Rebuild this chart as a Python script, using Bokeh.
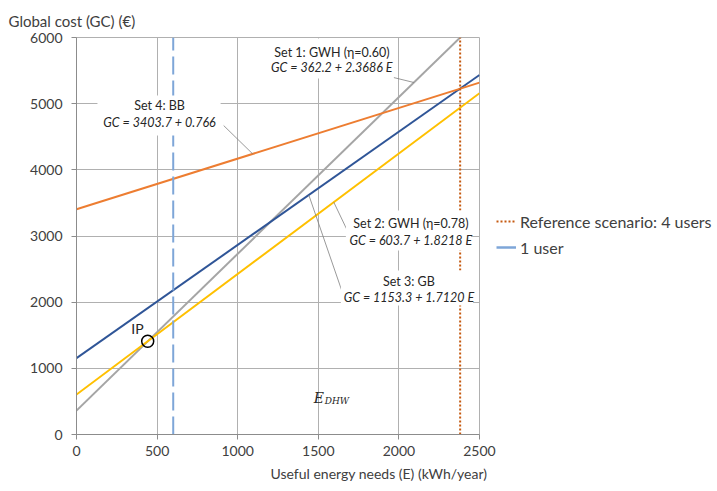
from bokeh.plotting import figure
from bokeh.layouts import row
from bokeh.models import Range1d, FixedTicker, Label, BoxAnnotation, Legend, LegendItem, Title
from bokeh.embed import file_html
from bokeh.resources import INLINE

# ---------------- data ----------------
set_titles = ["Set 1: GWH (η=0.60)", "Set 2: GWH (η=0.78)", "Set 3: GB", "Set 4: BB"]
formula_texts = ["GC = 362.2 + 2.3686 E", "GC = 603.7 + 1.8218 E",
                 "GC = 1153.3 + 1.7120 E", "GC = 3403.7 + 0.766"]
intercepts = [362.2, 603.7, 1153.3, 3403.7]
slopes = [2.3686, 1.8218, 1.7120, 0.766]
line_colors = ["#a5a5a5", "#ffc000", "#2f5597", "#ed7d31"]
energy_range = [0, 2500]
ref_energy_4_users = 2380
energy_1_user = 600
x_ticks = [0, 500, 1000, 1500, 2000, 2500]
y_ticks = [0, 1000, 2000, 3000, 4000, 5000, 6000]
legend_labels = ["Reference scenario: 4 users", "1 user"]
y_title = "Global cost (GC) (€)"
x_title = "Useful energy needs (E) (kWh/year)"

FONT = "Lato"
TXT = "#404040"
GRID = "#b0b0b0"
REF_COLOR = "#c55a11"
USER_COLOR = "#7ea6d8"

p = figure(width=496, height=491, output_backend="svg", toolbar_location=None,
           x_range=Range1d(0, 2500), y_range=Range1d(0, 6000),
           min_border_left=76, min_border_right=17, min_border_top=37, min_border_bottom=57)
p.outline_line_color = GRID
p.background_fill_color = "white"
p.border_fill_color = "white"

for ax in (p.xaxis[0], p.yaxis[0]):
    ax.axis_line_color = "#8c8c8c"
    ax.major_tick_line_color = "#8c8c8c"
    ax.minor_tick_line_color = None
    ax.major_tick_in = 0
    ax.major_tick_out = 5
    ax.major_label_text_font = FONT
    ax.major_label_text_font_size = "14px"
    ax.major_label_text_color = TXT
p.xaxis.ticker = FixedTicker(ticks=x_ticks)
p.yaxis.ticker = FixedTicker(ticks=y_ticks)
p.xaxis.major_label_standoff = 6
p.yaxis.major_label_standoff = 9
p.xgrid.ticker = FixedTicker(ticks=x_ticks)
p.ygrid.ticker = FixedTicker(ticks=y_ticks)
p.grid.grid_line_color = GRID
p.grid.grid_line_width = 1

# axis titles as side-panel titles
p.add_layout(Title(text=y_title, align="left", offset=-68, standoff=16,
                   text_font=FONT, text_font_size="15px", text_font_style="normal",
                   text_color=TXT), "above")
p.add_layout(Title(text=x_title, align="left", offset=194, standoff=9,
                   text_font=FONT, text_font_size="14px", text_font_style="normal",
                   text_color=TXT), "below")

# ---------------- lines ----------------
draw_order = [0, 2, 1, 3]
for i in draw_order:
    ys = [intercepts[i] + slopes[i] * e for e in energy_range]
    p.line(energy_range, ys, line_color=line_colors[i], line_width=2)

p.line([ref_energy_4_users, ref_energy_4_users], [0, 6000],
       line_color=REF_COLOR, line_width=2, line_dash="2 2")
p.line([energy_1_user, energy_1_user], [0, 6000],
       line_color=USER_COLOR, line_width=2, line_dash="18 6")

# ---------------- label boxes ----------------
boxes = [
    (1205, 1963, 5380, 5985),   # set 1
    (1671, 2447, 2780, 3385),   # set 2
    (1640, 2460, 1949, 2478),   # set 3
    (130, 894, 4518, 5122),     # set 4
]
for (l, r, b, t) in boxes:
    p.add_layout(BoxAnnotation(left=l, right=r, bottom=b, top=t,
                               fill_color="white", fill_alpha=1.0, line_color=None))

# leader lines: start point (label side) and E where the pointer meets the line
leaders = [
    (1969, 5394, 2093),
    (1689, 3037, 1596),
    (1652, 2130, 1441),
    (913, 4669, 1093),
]
for i, (x0, y0, e1) in enumerate(leaders):
    p.segment(x0=[x0], y0=[y0], x1=[e1], y1=[intercepts[i] + slopes[i] * e1],
              line_color="#7f7f7f", line_width=0.8)

label_pos = [
    (1584, 5772, 5545),
    (2074, 3188, 2931),
    (2062, 2312, 2070),
    (515, 4971, 4714),
]
for i, (ex, g1, g2) in enumerate(label_pos):
    p.add_layout(Label(x=ex, y=g1, text=set_titles[i], text_align="center",
                       text_baseline="middle", text_font=FONT,
                       text_font_size="12.5px", text_color="#262626"))
    p.add_layout(Label(x=ex, y=g2, text=formula_texts[i], text_align="center",
                       text_baseline="middle", text_font=FONT,
                       text_font_style="italic", text_font_size="12.5px",
                       text_color="#262626"))

# ---------------- intersection point ----------------
e_ip = (intercepts[1] - intercepts[0]) / (slopes[0] - slopes[1])
gc_ip = intercepts[0] + slopes[0] * e_ip
p.scatter([e_ip], [gc_ip], marker="circle", size=12, fill_color=None,
          line_color="black", line_width=1.5)
p.add_layout(Label(x=340, y=1602, text="IP", text_align="left", text_baseline="middle",
                   text_font=FONT, text_font_size="14px", text_color="#262626"))

# E_DHW
p.add_layout(Label(x=1472, y=559, text="E", text_align="left", text_baseline="middle",
                   text_font="DejaVu Serif", text_font_style="italic",
                   text_font_size="14px", text_color="#262626"))
p.add_layout(Label(x=1540, y=499, text="DHW", text_align="left", text_baseline="middle",
                   text_font="DejaVu Serif", text_font_style="italic",
                   text_font_size="9px", text_color="#262626"))

# ---------------- legend figure (right side) ----------------
q = figure(width=221, height=491, output_backend="svg", toolbar_location=None,
           x_range=Range1d(0, 1), y_range=Range1d(0, 1),
           x_axis_type=None, y_axis_type=None, min_border=0)
q.outline_line_color = None
q.background_fill_color = "white"
q.border_fill_color = "white"
ref_leg = q.line([ref_energy_4_users, ref_energy_4_users], [0, 6000],
                 line_color=REF_COLOR, line_width=2, line_dash="2 2")
user_leg = q.line([energy_1_user, energy_1_user], [0, 6000],
                  line_color=USER_COLOR, line_width=2.5)
legend = Legend(items=[LegendItem(label=legend_labels[0], renderers=[ref_leg]),
                       LegendItem(label=legend_labels[1], renderers=[user_leg])],
                location=(0, 177), glyph_width=20, glyph_height=20, label_standoff=4,
                spacing=6, padding=0, margin=0, border_line_color=None,
                background_fill_alpha=0, label_text_font=FONT,
                label_text_font_size="16px", label_text_color=TXT)
q.add_layout(legend, "center")

layout = row(p, q)
open("out.html", "w").write(file_html(layout, INLINE))
